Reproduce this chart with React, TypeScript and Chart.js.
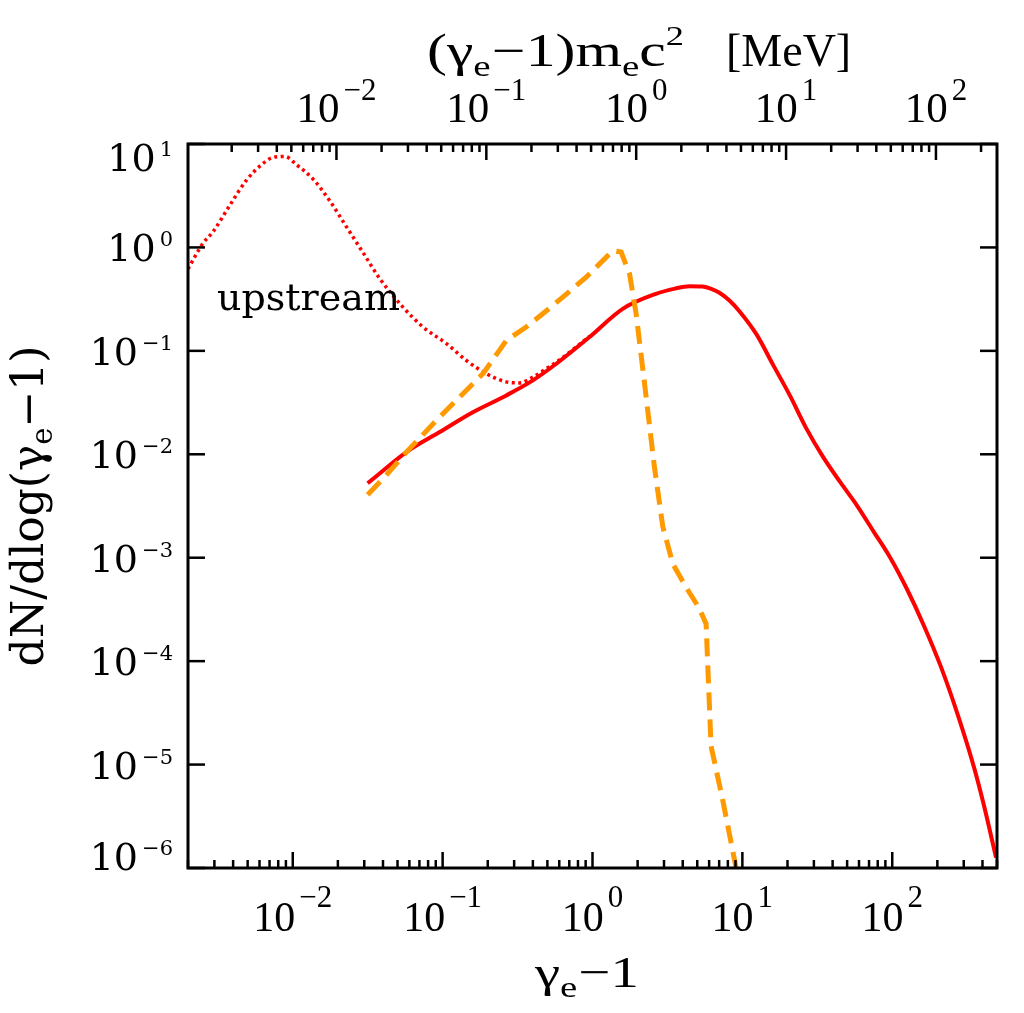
import React, { useEffect, useRef } from "react";
import { Chart, registerables } from "chart.js";

Chart.register(...registerables);

// ---------- data ----------
// downstream spectrum (solid red)
const solidX = [0.0316, 0.0344, 0.0573, 0.0955, 0.159, 0.266, 0.400, 0.573, 0.955, 1.59, 2.65, 3.55, 4.44, 5.41, 6.2, 7.03, 8.13, 9.55, 12.4, 16.1, 20.9, 26.7, 34.7, 45.0, 58.5, 75.3, 97.0, 126, 163, 212, 271, 352, 410, 493];
const solidY = [5.25e-3, 5.8e-3, 0.0105, 0.0164, 0.0255, 0.0371, 0.0518, 0.075, 0.136, 0.255, 0.356, 0.40, 0.422, 0.418, 0.398, 0.365, 0.31, 0.242, 0.145, 0.0724, 0.0363, 0.0178, 9.33e-3, 5.37e-3, 3.16e-3, 1.78e-3, 1.0e-3, 4.9e-4, 2.19e-4, 8.7e-5, 3.16e-5, 9.3e-6, 3.98e-6, 1.26e-6];

// upstream spectrum (dotted red)
const dottedX = [2.0e-3, 2.51e-3, 2.93e-3, 3.80e-3, 4.90e-3, 6.31e-3, 7.36e-3, 8.85e-3, 0.01057, 0.01368, 0.01766, 0.0228, 0.02944, 0.0380, 0.0543, 0.0740, 0.106, 0.144, 0.1954, 0.266, 0.326, 0.400, 0.491, 0.573, 0.955];
const dottedY = [0.62, 1.09, 1.41, 2.55, 4.45, 6.46, 7.41, 7.59, 6.31, 4.57, 2.82, 1.585, 0.891, 0.501, 0.265, 0.170, 0.1175, 0.0807, 0.0603, 0.0501, 0.049, 0.0557, 0.0671, 0.0776, 0.138];

// dashed orange spectrum
const dashedX = [0.0316, 0.0410, 0.0573, 0.0955, 0.186, 0.266, 0.361, 0.545, 0.908, 1.368, 1.552, 1.766, 1.954, 2.239, 2.588, 2.944, 3.436, 4.207, 5.164, 5.728, 6.18, 7.41, 9.08];
const dashedY = [4.07e-3, 6.03e-3, 0.0105, 0.0229, 0.0603, 0.126, 0.170, 0.275, 0.516, 0.933, 0.902, 0.557, 0.229, 0.0447, 7.59e-3, 2.0e-3, 8.7e-4, 5.19e-4, 3.24e-4, 2.29e-4, 1.51e-5, 4.47e-6, 1.0e-6];

// axes
const xMin = 2e-3;
const xMax = 500;
const yMin = 1e-6;
const yMax = 1e1;
const MEC2 = 0.511; // MeV

const bottomMajor = [1e-2, 1e-1, 1, 10, 100];
const bottomExp = ["\u22122", "\u22121", "0", "1", "2"];
const topMajor = [1e-2, 1e-1, 1, 10, 100];
const topExp = ["\u22122", "\u22121", "0", "1", "2"];
const yMajor = [1e-6, 1e-5, 1e-4, 1e-3, 1e-2, 1e-1, 1, 10];
const yExp = ["\u22126", "\u22125", "\u22124", "\u22123", "\u22122", "\u22121", "0", "1"];

const upstreamLabel = "upstream";

const RED = "#ff0000";
const ORANGE = "#ff9900";
const SERIF_N = '"Liberation Serif", "Times New Roman", serif';
const SERIF_W = '"DejaVu Serif", serif';

function logTicks(min: number, max: number, withMinor: boolean) {
  const out: { value: number; major: boolean }[] = [];
  const d0 = Math.floor(Math.log10(min));
  const d1 = Math.ceil(Math.log10(max));
  for (let d = d0; d <= d1; d++) {
    for (let k = 1; k <= 9; k++) {
      if (!withMinor && k > 1) continue;
      const v = k * Math.pow(10, d);
      if (v >= min * 0.9999 && v <= max * 1.0001) out.push({ value: v, major: k === 1 });
    }
  }
  return out;
}

type Seg = { t: string; size: number; family: string; dy?: number; gap?: number };

function segsWidth(ctx: CanvasRenderingContext2D, segs: Seg[]) {
  let w = 0;
  for (const s of segs) {
    ctx.font = `${s.size}px ${s.family}`;
    w += ctx.measureText(s.t).width + (s.gap || 0);
  }
  return w;
}

function drawSegs(ctx: CanvasRenderingContext2D, segs: Seg[], x: number, y: number) {
  let cx = x;
  for (const s of segs) {
    ctx.font = `${s.size}px ${s.family}`;
    ctx.fillText(s.t, cx, y + (s.dy || 0));
    cx += ctx.measureText(s.t).width + (s.gap || 0);
  }
}

// draw segments stretched horizontally to span [x0, x1]
function drawSegsSpan(ctx: CanvasRenderingContext2D, segs: Seg[], x0: number, x1: number, y: number) {
  const w = segsWidth(ctx, segs);
  ctx.save();
  ctx.translate(x0, y);
  ctx.scale((x1 - x0) / w, 1);
  drawSegs(ctx, segs, 0, 0);
  ctx.restore();
}

const framePlugin = {
  id: "idlFrame",
  afterDatasetsDraw(chart: any) {
    const { ctx, chartArea: a, scales } = chart;
    ctx.save();
    ctx.strokeStyle = "#000";
    ctx.fillStyle = "#000";
    ctx.lineCap = "butt";

    // ticks (inward)
    ctx.lineWidth = 2.5;
    const line = (x1: number, y1: number, x2: number, y2: number) => {
      ctx.beginPath();
      ctx.moveTo(x1, y1);
      ctx.lineTo(x2, y2);
      ctx.stroke();
    };
    for (const t of scales.x.ticks) {
      const px = scales.x.getPixelForValue(t.value);
      line(px, a.bottom, px, a.bottom - (t.major ? 16 : 8));
    }
    for (const t of scales.x2.ticks) {
      const px = scales.x2.getPixelForValue(t.value);
      line(px, a.top, px, a.top + (t.major ? 16 : 8));
    }
    for (const t of scales.y.ticks) {
      const py = scales.y.getPixelForValue(t.value);
      line(a.left, py, a.left + 17, py);
    }
    for (const t of scales.y2.ticks) {
      const py = scales.y2.getPixelForValue(t.value);
      line(a.right, py, a.right - 17, py);
    }

    // frame
    ctx.lineWidth = 3;
    ctx.strokeRect(a.left, a.top, a.right - a.left, a.bottom - a.top);

    ctx.textAlign = "left";
    ctx.textBaseline = "alphabetic";

    // bottom tick labels
    bottomMajor.forEach((v, i) => {
      const px = scales.x.getPixelForValue(v);
      const segs: Seg[] = [
        { t: "10", size: 42, family: SERIF_N, gap: 4 },
        { t: bottomExp[i], size: 31, family: SERIF_N, dy: -24 },
      ];
      const w = segsWidth(ctx, segs);
      drawSegs(ctx, segs, px - w / 2, a.bottom + 63);
    });

    // top tick labels (MeV)
    topMajor.forEach((v, i) => {
      const px = scales.x2.getPixelForValue(v);
      const segs: Seg[] = [
        { t: "10", size: 43, family: SERIF_N, gap: 4 },
        { t: topExp[i], size: 31, family: SERIF_N, dy: -22 },
      ];
      const w = segsWidth(ctx, segs);
      drawSegs(ctx, segs, px - w / 2, a.top - 22);
    });

    // left tick labels
    yMajor.forEach((v, i) => {
      const py = scales.y.getPixelForValue(v);
      let base = py + 14;
      base = Math.max(base, a.top + 27);
      base = Math.min(base, a.bottom + 2);
      const segs: Seg[] = [
        { t: "10", size: 38, family: SERIF_W, gap: 4 },
        { t: yExp[i], size: 21, family: SERIF_W, dy: -15 },
      ];
      const w = segsWidth(ctx, segs);
      drawSegs(ctx, segs, a.left - 15 - w, base);
    });

    // bottom title: gamma_e - 1
    drawSegsSpan(
      ctx,
      [
        { t: "\u03b3", size: 44, family: SERIF_N },
        { t: "e", size: 30, family: SERIF_N, dy: 10, gap: 1 },
        { t: "\u22121", size: 44, family: SERIF_N },
      ],
      535,
      639,
      987
    );

    // top title: (gamma_e - 1) m_e c^2  [MeV]
    drawSegsSpan(
      ctx,
      [
        { t: "(\u03b3", size: 46, family: SERIF_N },
        { t: "e", size: 30, family: SERIF_N, dy: 10, gap: 1 },
        { t: "\u22121)m", size: 46, family: SERIF_N },
        { t: "e", size: 30, family: SERIF_N, dy: 10 },
        { t: "c", size: 46, family: SERIF_N },
        { t: "2", size: 28, family: SERIF_N, dy: -21 },
      ],
      427,
      684,
      66
    );
    ctx.font = `46px ${SERIF_N}`;
    ctx.fillText("[MeV]", 726, 66);

    // y title (rotated)
    {
      const segs: Seg[] = [
        { t: "dN/dlog(\u03b3", size: 44, family: SERIF_W },
        { t: "e", size: 29, family: SERIF_W, dy: 9 },
        { t: "\u22121)", size: 44, family: SERIF_W },
      ];
      const w = segsWidth(ctx, segs);
      ctx.save();
      ctx.translate(43, (a.top + a.bottom) / 2);
      ctx.rotate(-Math.PI / 2);
      drawSegs(ctx, segs, -w / 2, 0);
      ctx.restore();
    }

    // annotation
    ctx.font = `38px ${SERIF_W}`;
    ctx.fillText(upstreamLabel, a.left + 29, 310);

    ctx.restore();
  },
};

function pts(xs: number[], ys: number[]) {
  return xs.map((x, i) => ({ x, y: ys[i] }));
}

export default function App() {
  const ref = useRef<HTMLCanvasElement | null>(null);

  useEffect(() => {
    if (!ref.current) return;
    const chart = new Chart(ref.current, {
      type: "line",
      data: {
        datasets: [
          {
            label: "dashed",
            data: pts(dashedX, dashedY),
            borderColor: ORANGE,
            borderWidth: 5,
            borderDash: [18, 9],
            pointRadius: 0,
            tension: 0,
            fill: false,
            order: 0,
            xAxisID: "x",
            yAxisID: "y",
          },
          {
            label: "downstream",
            data: pts(solidX, solidY),
            borderColor: RED,
            borderWidth: 4,
            pointRadius: 0,
            cubicInterpolationMode: "monotone",
            fill: false,
            order: 1,
            xAxisID: "x",
            yAxisID: "y",
          },
          {
            label: "upstream",
            data: pts(dottedX, dottedY),
            borderColor: RED,
            borderWidth: 3.5,
            borderDash: [3, 3.5],
            pointRadius: 0,
            cubicInterpolationMode: "monotone",
            fill: false,
            order: 2,
            xAxisID: "x",
            yAxisID: "y",
          },
        ],
      },
      options: {
        animation: false,
        responsive: false,
        maintainAspectRatio: false,
        devicePixelRatio: 1,
        layout: { padding: 0 },
        plugins: { legend: { display: false }, tooltip: { enabled: false } },
        scales: {
          x: {
            type: "logarithmic",
            position: "bottom",
            min: xMin,
            max: xMax,
            bounds: "data",
            ticks: { display: false },
            grid: { display: false },
            border: { display: false },
            afterBuildTicks: (s: any) => { s.ticks = logTicks(xMin, xMax, true); },
            afterFit: (s: any) => { s.height = 145; },
          },
          x2: {
            type: "logarithmic",
            position: "top",
            axis: "x",
            min: xMin * MEC2,
            max: xMax * MEC2,
            bounds: "data",
            ticks: { display: false },
            grid: { display: false },
            border: { display: false },
            afterBuildTicks: (s: any) => { s.ticks = logTicks(xMin * MEC2, xMax * MEC2, true); },
            afterFit: (s: any) => { s.height = 144; },
          },
          y: {
            type: "logarithmic",
            position: "left",
            min: yMin,
            max: yMax,
            bounds: "data",
            ticks: { display: false },
            grid: { display: false },
            border: { display: false },
            afterBuildTicks: (s: any) => { s.ticks = logTicks(yMin, yMax, false); },
            afterFit: (s: any) => { s.width = 188; },
          },
          y2: {
            type: "logarithmic",
            position: "right",
            axis: "y",
            min: yMin,
            max: yMax,
            bounds: "data",
            ticks: { display: false },
            grid: { display: false },
            border: { display: false },
            afterBuildTicks: (s: any) => { s.ticks = logTicks(yMin, yMax, false); },
            afterFit: (s: any) => { s.width = 27; },
          },
        },
      } as any,
      plugins: [framePlugin],
    });
    return () => chart.destroy();
  }, []);

  return (
    <div style={{ position: "fixed", left: 0, top: 0, width: 1024, height: 1013, background: "#fff" }}>
      <canvas ref={ref} width={1024} height={1013} style={{ display: "block", width: 1024, height: 1013 }} />
    </div>
  );
}
